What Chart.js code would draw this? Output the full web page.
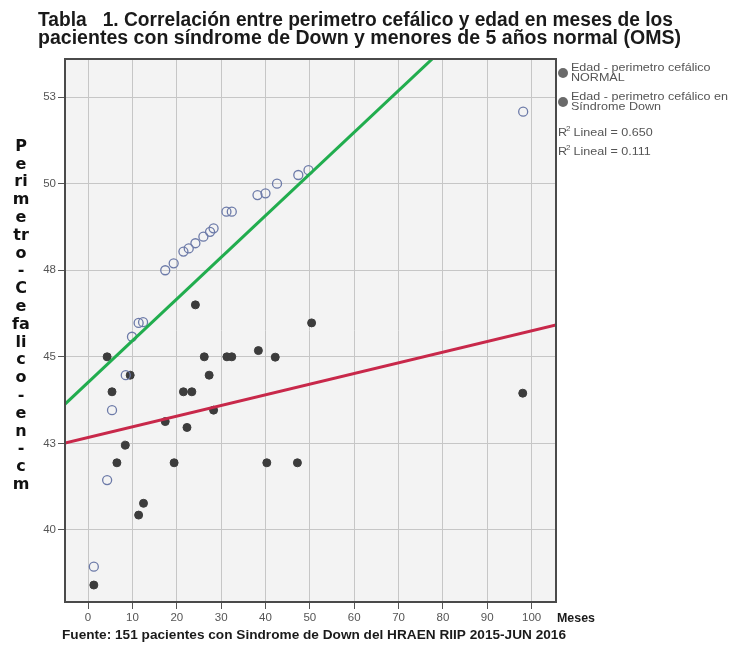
<!DOCTYPE html>
<html>
<head>
<meta charset="utf-8">
<script src="https://cdn.jsdelivr.net/npm/chart.js@4/dist/chart.umd.min.js"></script>
<style>
  html, body { margin: 0; padding: 0; background: #ffffff; }
  #wrap { width: 743px; height: 645px; position: relative; }
</style>
</head>
<body>
<div id="wrap"><canvas id="c" width="743" height="645"></canvas></div>
<script>
// Age in months and head circumference (cm), WHO reference children
const normalMonths    = [1.3, 4.3, 5.4, 8.5, 9.9, 11.4, 12.4, 17.4, 19.3, 21.5, 22.7, 24.2, 26.0, 27.5, 28.3, 31.2, 32.4, 38.2, 40.0, 42.6, 47.4, 49.7, 98.1];
const normalPerimeter = [38.94, 41.44, 43.46, 44.47, 45.58, 45.98, 46.0, 47.5, 47.7, 48.04, 48.13, 48.28, 48.47, 48.61, 48.71, 49.19, 49.19, 49.67, 49.72, 50.0, 50.25, 50.39, 52.08];

// Age in months and head circumference (cm), children with Down syndrome
const downMonths    = [1.3, 4.3, 5.4, 6.5, 8.4, 9.5, 11.4, 12.5, 17.4, 19.4, 21.5, 23.4, 22.3, 24.2, 26.2, 27.3, 28.3, 31.3, 32.4, 38.4, 40.3, 42.2, 47.2, 50.4, 98.0];
const downPerimeter = [38.41, 45.0, 43.99, 41.94, 42.45, 44.47, 40.43, 40.77, 43.13, 41.94, 43.99, 43.99, 42.96, 46.5, 45.0, 44.47, 43.46, 45.0, 45.0, 45.18, 41.94, 44.99, 41.94, 45.98, 43.95];

// Linear fits (intercept, slope per month)
const fitNormal = [44.26, 0.1204];
const fitDown   = [42.67, 0.0308];

// Axes
const xTickValues = [0, 10, 20, 30, 40, 50, 60, 70, 80, 90, 100];
const yTickValues = [40, 42.5, 45, 47.5, 50, 52.5];
const yTickLabels = ['40', '43', '45', '48', '50', '53'];
const xRange = [-5.2, 105.5];
const yRange = [37.92, 53.6];

// Texts
const titleLines = [
  'Tabla   1. Correlación entre perimetro cefálico y edad en meses de los',
  'pacientes con síndrome de Down y menores de 5 años normal (OMS)'
];
const yTitleParts = ['P','e','ri','m','e','tr','o','-','C','e','fa','li','c','o','-','e','n','-','c','m'];
const xTitle = 'Meses';
const sourceNote = 'Fuente: 151 pacientes con Sindrome de Down del HRAEN RIIP 2015-JUN 2016';
const legendNames = [
  ['Edad - perimetro cefálico', 'NORMAL'],
  ['Edad - perimetro cefálico en', 'Síndrome Down']
];
const r2Values = ['0.650', '0.111'];

const toPoints = (xs, ys) => xs.map((x, i) => ({ x: x, y: ys[i] }));
const fitLine = f => xRange.map(x => ({ x: x, y: f[0] + f[1] * x }));

const FONT = '"Liberation Sans", Arial, sans-serif';

// draws text squeezed/stretched to a given width
function fitText(ctx, text, x, y, width) {
  const w = ctx.measureText(text).width;
  ctx.save();
  ctx.translate(x, y);
  ctx.scale(width / w, 1);
  ctx.fillText(text, 0, 0);
  ctx.restore();
}

// draws text with a fixed horizontal scale
function scaledText(ctx, text, x, y, k) {
  ctx.save();
  ctx.translate(x, y);
  ctx.scale(k, 1);
  ctx.fillText(text, 0, 0);
  ctx.restore();
}

const framePlugin = {
  id: 'frame',
  beforeDraw(chart) {
    const a = chart.chartArea, ctx = chart.ctx;
    ctx.save();
    ctx.fillStyle = '#f3f3f3';
    ctx.fillRect(a.left, a.top, a.right - a.left, a.bottom - a.top);
    ctx.restore();
  },
  afterDraw(chart) {
    const a = chart.chartArea, ctx = chart.ctx;
    ctx.save();
    ctx.strokeStyle = '#4a4a4a';
    ctx.lineWidth = 2;
    ctx.strokeRect(a.left, a.top, a.right - a.left, a.bottom - a.top);

    // title
    ctx.fillStyle = '#1a1a1a';
    ctx.textBaseline = 'alphabetic';
    ctx.textAlign = 'left';
    ctx.font = 'bold 19.5px ' + FONT;
    fitText(ctx, titleLines[0], 38, 26, 635);
    fitText(ctx, titleLines[1], 38, 44, 643);

    // stacked y-axis title
    ctx.font = 'bold 16px "DejaVu Sans", ' + FONT;
    ctx.fillStyle = '#111';
    ctx.textAlign = 'center';
    ctx.textBaseline = 'middle';
    yTitleParts.forEach((p, i) => ctx.fillText(p, 21, 146.6 + i * 17.8));

    // x-axis title and source note
    ctx.textAlign = 'left';
    ctx.textBaseline = 'alphabetic';
    ctx.fillStyle = '#1a1a1a';
    ctx.font = 'bold 13.5px ' + FONT;
    fitText(ctx, xTitle, 557, 622, 38);
    ctx.font = 'bold 13.5px ' + FONT;
    fitText(ctx, sourceNote, 62, 639, 504);

    // legend
    ctx.font = '11px ' + FONT;
    const k = 157 / ctx.measureText(legendNames[1][0]).width;
    const markerY = [73, 102];
    legendNames.forEach((lines, i) => {
      ctx.beginPath();
      ctx.arc(563, markerY[i], 5, 0, Math.PI * 2);
      ctx.fillStyle = '#6a6a6a';
      ctx.fill();
      ctx.fillStyle = '#555';
      ctx.textBaseline = 'middle';
      scaledText(ctx, lines[0], 571, markerY[i] - 5, k);
      scaledText(ctx, lines[1], 571, markerY[i] + 5, k);
    });
    const r2Y = [133, 152];
    r2Values.forEach((v, i) => {
      ctx.font = '11px ' + FONT;
      scaledText(ctx, 'R', 558, r2Y[i], k);
      ctx.font = '8px ' + FONT;
      ctx.fillText('2', 566, r2Y[i] - 4);
      ctx.font = '11px ' + FONT;
      scaledText(ctx, ' Lineal = ' + v, 570, r2Y[i], k);
    });
    ctx.restore();
  }
};

new Chart(document.getElementById('c'), {
  type: 'scatter',
  data: {
    datasets: [
      {
        label: 'R² Lineal = ' + r2Values[0],
        data: fitLine(fitNormal),
        showLine: true,
        borderColor: '#21ad4e',
        borderWidth: 3,
        pointRadius: 0,
        fill: false
      },
      {
        label: 'R² Lineal = ' + r2Values[1],
        data: fitLine(fitDown),
        showLine: true,
        borderColor: '#c8284a',
        borderWidth: 3,
        pointRadius: 0,
        fill: false
      },
      {
        label: legendNames[0].join(' '),
        data: toPoints(normalMonths, normalPerimeter),
        pointStyle: 'circle',
        pointRadius: 4.5,
        backgroundColor: 'rgba(255,255,255,0)',
        borderColor: '#6c7aa8',
        borderWidth: 1.3
      },
      {
        label: legendNames[1].join(' '),
        data: toPoints(downMonths, downPerimeter),
        pointStyle: 'circle',
        pointRadius: 4,
        backgroundColor: '#3c3c3c',
        borderColor: '#3c3c3c',
        borderWidth: 1
      }
    ]
  },
  options: {
    responsive: false,
    devicePixelRatio: 1,
    animation: false,
    layout: { padding: { top: 59, right: 187, left: 0, bottom: 0 } },
    plugins: {
      legend: { display: false },
      title: { display: false },
      tooltip: { enabled: false }
    },
    scales: {
      x: {
        type: 'linear',
        min: xRange[0],
        max: xRange[1],
        afterFit: s => { s.height = 43; },
        afterBuildTicks: s => { s.ticks = xTickValues.map(v => ({ value: v })); },
        border: { display: false },
        grid: { color: '#c6c6c6', lineWidth: 1, tickLength: 7, tickColor: '#555' },
        ticks: { color: '#555', font: { family: FONT, size: 11.5 }, padding: 2, maxRotation: 0 }
      },
      y: {
        type: 'linear',
        min: yRange[0],
        max: yRange[1],
        afterFit: s => { s.width = 65; },
        afterBuildTicks: s => { s.ticks = yTickValues.map(v => ({ value: v })); },
        border: { display: false },
        grid: { color: '#c6c6c6', lineWidth: 1, tickLength: 7, tickColor: '#555' },
        ticks: {
          color: '#555',
          font: { family: FONT, size: 11.5 },
          padding: 2,
          callback: (v, i) => yTickLabels[i]
        }
      }
    }
  },
  plugins: [framePlugin]
});
</script>
</body>
</html>
